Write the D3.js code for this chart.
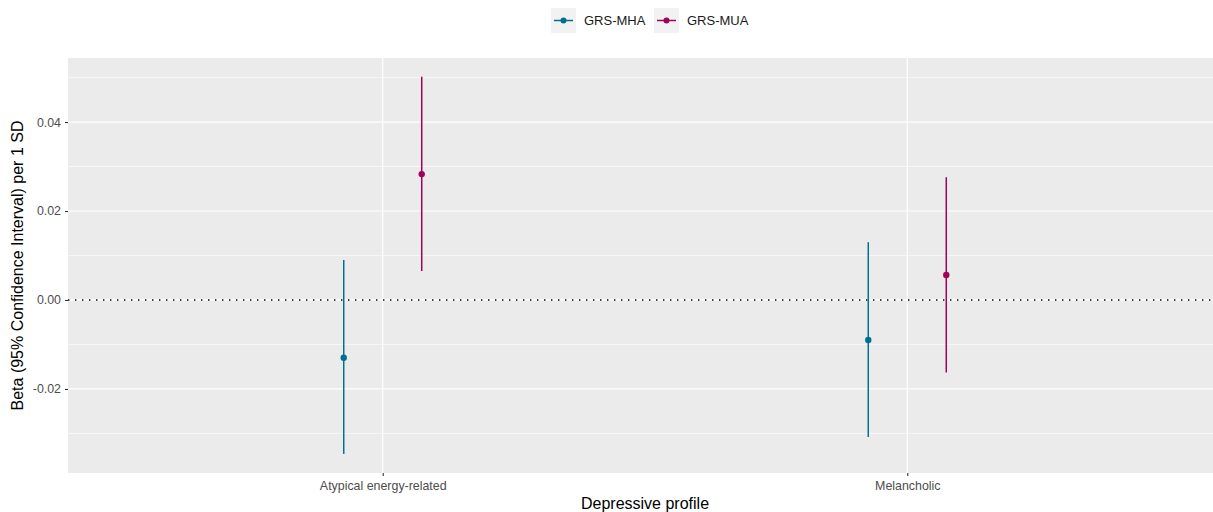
<!DOCTYPE html>
<html lang="en">
<head>
    <meta charset="UTF-8">
    <title>Depressive profile forest plot</title>
    <script src="https://d3js.org/d3.v7.min.js"></script>
    <style>
        body { margin: 0; background: #fff; font-family: "Liberation Sans", Arial, sans-serif; }
        svg { display: block; }
    </style>
</head>
<body>
    <svg width="1213" height="512"></svg>
    <script>
        // data
        const profiles = ["Atypical energy-related", "Melancholic"];
        const series = ["GRS-MHA", "GRS-MUA"];
        const colors = ["#00708f", "#a3005c"];
        const beta = [[-0.0130, -0.0090], [0.0283, 0.0056]];
        const lower = [[-0.0346, -0.0308], [0.0065, -0.0163]];
        const upper = [[0.0090, 0.0130], [0.0502, 0.0276]];
        const yTicks = [-0.02, 0.00, 0.02, 0.04];
        const yMinor = [-0.03, -0.01, 0.01, 0.03, 0.05];

        const svg = d3.select("svg");
        const pLeft = 68, pRight = 1222, pTop = 58, pBottom = 473;

        const x = d3.scalePoint().domain(profiles).range([pLeft, pRight]).padding(0.6);
        const dodge = d3.scalePoint().domain(series).range([-39, 39]);
        const y = d3.scaleLinear().domain([-0.0389, 0.0544]).range([pBottom, pTop]);

        // panel
        svg.append("rect")
            .attr("x", pLeft).attr("y", pTop)
            .attr("width", pRight - pLeft).attr("height", pBottom - pTop)
            .attr("fill", "#ebebeb");

        const grid = svg.append("g");
        grid.selectAll(".minor").data(yMinor).join("line")
            .attr("x1", pLeft).attr("x2", pRight)
            .attr("y1", d => y(d)).attr("y2", d => y(d))
            .attr("stroke", "#fff").attr("stroke-width", 0.6);
        grid.selectAll(".major").data(yTicks).join("line")
            .attr("x1", pLeft).attr("x2", pRight)
            .attr("y1", d => y(d)).attr("y2", d => y(d))
            .attr("stroke", "#fff").attr("stroke-width", 1.2);
        grid.selectAll(".vmajor").data(profiles).join("line")
            .attr("x1", d => x(d)).attr("x2", d => x(d))
            .attr("y1", pTop).attr("y2", pBottom)
            .attr("stroke", "#fff").attr("stroke-width", 1.2);

        // reference line at zero
        svg.append("line")
            .attr("x1", pLeft).attr("x2", pRight)
            .attr("y1", y(0)).attr("y2", y(0))
            .attr("stroke", "#000").attr("stroke-width", 1.4)
            .attr("stroke-dasharray", "1.4,5.6");

        // error bars + points
        series.forEach((s, si) => {
            const g = svg.append("g");
            profiles.forEach((p, pi) => {
                const cx = x(p) + dodge(s);
                g.append("line")
                    .attr("x1", cx).attr("x2", cx)
                    .attr("y1", y(upper[si][pi])).attr("y2", y(lower[si][pi]))
                    .attr("stroke", colors[si]).attr("stroke-width", 1.5);
                g.append("circle")
                    .attr("cx", cx).attr("cy", y(beta[si][pi]))
                    .attr("r", 3.2).attr("fill", colors[si]);
            });
        });

        // axes
        const yAxis = svg.append("g")
            .attr("transform", `translate(${pLeft},0)`)
            .call(d3.axisLeft(y).tickValues(yTicks).tickFormat(d3.format(".2f")).tickSize(3).tickPadding(4));
        const xAxis = svg.append("g")
            .attr("transform", `translate(0,${pBottom})`)
            .call(d3.axisBottom(x).tickSize(3).tickPadding(5));
        [xAxis, yAxis].forEach(a => {
            a.select(".domain").remove();
            a.selectAll(".tick line").attr("stroke", "#333").attr("stroke-width", 1.1);
            a.selectAll(".tick text").attr("fill", "#4d4d4d")
                .style("font-family", "'Liberation Sans', Arial, sans-serif")
                .style("font-size", "12.4px");
        });
        yAxis.selectAll(".tick text").text(d => d3.format(".2f")(d).replace("−", "-"));

        svg.append("text")
            .attr("x", (pLeft + pRight) / 2).attr("y", 509)
            .attr("text-anchor", "middle")
            .style("font-size", "16px")
            .text("Depressive profile");

        svg.append("text")
            .attr("transform", `translate(23,${(pTop + pBottom) / 2}) rotate(-90)`)
            .attr("text-anchor", "middle")
            .style("font-size", "16px")
            .text("Beta (95% Confidence Interval) per 1 SD");

        // legend
        const legendX = [551, 654];
        series.forEach((s, si) => {
            const g = svg.append("g").attr("transform", `translate(${legendX[si]},8)`);
            g.append("rect").attr("width", 25).attr("height", 25).attr("fill", "#f2f2f2");
            g.append("line").attr("x1", 3).attr("x2", 22).attr("y1", 12.5).attr("y2", 12.5)
                .attr("stroke", colors[si]).attr("stroke-width", 1.5);
            g.append("circle").attr("cx", 12.5).attr("cy", 12.5).attr("r", 3).attr("fill", colors[si]);
            g.append("text").attr("x", 33).attr("y", 17)
                .style("font-size", "13px").attr("fill", "#1a1a1a")
                .text(s);
        });
    </script>
</body>
</html>
